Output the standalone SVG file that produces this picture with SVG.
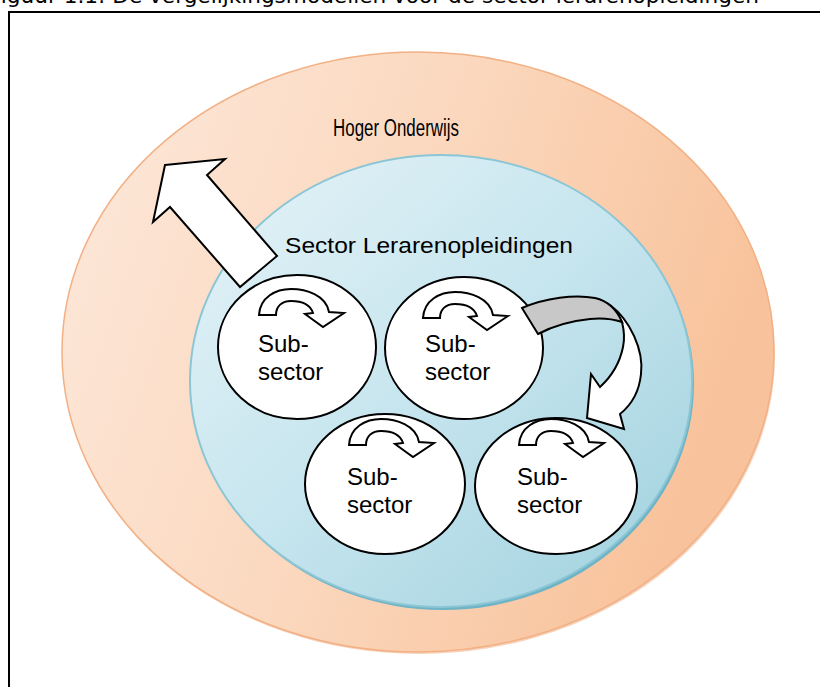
<svg xmlns="http://www.w3.org/2000/svg" width="820" height="687" viewBox="0 0 820 687">
  <defs>
    <linearGradient id="gOrange" x1="0" y1="0" x2="1" y2="0.3">
      <stop offset="0" stop-color="#fde9dc"/>
      <stop offset="0.5" stop-color="#fbd9c0"/>
      <stop offset="1" stop-color="#f8c39c"/>
    </linearGradient>
    <linearGradient id="gBlue" x1="0" y1="0" x2="1" y2="1">
      <stop offset="0" stop-color="#e6f3f8"/>
      <stop offset="0.5" stop-color="#c6e5ee"/>
      <stop offset="1" stop-color="#9ed0de"/>
    </linearGradient>
    <path id="loop" d="M1,0 C2,-18 18,-26 33,-26 C48,-26 68,-20 71,-3 L86,-2 L65,12 L47,-1 L55,-2 C52,-11 43,-14 33,-14 C24,-14 18,-9 18,0 Z"/>
  </defs>
  <style>
    .frame { fill: none; stroke: #000; stroke-width: 2; }
    .title { font-family: "DejaVu Sans", Verdana, sans-serif; font-size: 21px; fill: #000; }
    .label { font-family: "Liberation Sans", Arial, sans-serif; fill: #000; }
    .sub { font-family: "Liberation Sans", Arial, sans-serif; font-size: 24px; fill: #000; }
    .node { fill: #fff; stroke: #000; stroke-width: 2; }
    .loop { fill: #fff; stroke: #000; stroke-width: 2; stroke-linejoin: miter; }
    .arrow { fill: #fff; stroke: #000; stroke-width: 2; stroke-linejoin: miter; }
    .grey { fill: #c8c8c8; stroke: #000; stroke-width: 2; stroke-linejoin: miter; }
  </style>
  <rect width="820" height="687" fill="#fff"/>
  <text class="title" x="-10" y="3" textLength="769" lengthAdjust="spacingAndGlyphs">Figuur 1.1: De vergelijkingsmodellen voor de sector lerarenopleidingen</text>
  <rect class="frame" x="9" y="12" width="840" height="700"/>

  <g id="hoger-onderwijs">
    <ellipse cx="419" cy="355" rx="356" ry="299" fill="#efa877" opacity="0.5"/>
    <ellipse cx="418" cy="352" rx="356" ry="300" fill="url(#gOrange)" stroke="#f2b084" stroke-width="1.5"/>
    <text class="label" x="333" y="136" font-size="23" textLength="126" lengthAdjust="spacingAndGlyphs">Hoger Onderwijs</text>
  </g>

  <g id="sector-lerarenopleidingen">
    <ellipse cx="443" cy="384" rx="251" ry="226" fill="#6fb3c6"/>
    <ellipse cx="441" cy="381" rx="251" ry="226" fill="url(#gBlue)" stroke="#8cc6d5" stroke-width="2"/>
    <text class="label" x="285" y="253" font-size="22" textLength="288" lengthAdjust="spacingAndGlyphs">Sector Lerarenopleidingen</text>
  </g>

  <g id="connectors">
    <path id="out-arrow" class="arrow" d="M165,165 L225,159 L207,175 L277,256 L240,287 L170,207 L153,222 Z"/>
  </g>

  <g id="subsector-1">
    <ellipse class="node" cx="297" cy="347" rx="79" ry="72"/>
    <use href="#loop" class="loop" transform="translate(258,315)"/>
    <text class="sub" x="258" y="352">Sub-</text>
    <text class="sub" x="258" y="380">sector</text>
  </g>
  <g id="subsector-2">
    <ellipse class="node" cx="464" cy="348" rx="79" ry="71"/>
    <use href="#loop" class="loop" transform="translate(422,318)"/>
    <text class="sub" x="425" y="352">Sub-</text>
    <text class="sub" x="425" y="380">sector</text>
  </g>
  <g id="subsector-3">
    <ellipse class="node" cx="385" cy="484" rx="80" ry="70"/>
    <use href="#loop" class="loop" transform="translate(348,445)"/>
    <text class="sub" x="347" y="485">Sub-</text>
    <text class="sub" x="347" y="513">sector</text>
  </g>
  <g id="subsector-4">
    <ellipse class="node" cx="556" cy="486" rx="81" ry="68"/>
    <use href="#loop" class="loop" transform="translate(518,445)"/>
    <text class="sub" x="517" y="485">Sub-</text>
    <text class="sub" x="517" y="513">sector</text>
  </g>

  <g id="connectors-2">
    <path class="arrow" d="M610,305 C630,320 644,350 641,374 C639,394 630,406 620,414 L624,429 L587,418 L591,374 L600,387 C612,376 620,362 623,347 C625,338 624,330 622,322 Z"/>
    <path class="grey" d="M522,308 C545,298 575,294 595,298 C608,301 617,310 622,322 C610,318 600,318 590,319 C570,321 553,326 538,334 Z"/>
  </g>
</svg>
